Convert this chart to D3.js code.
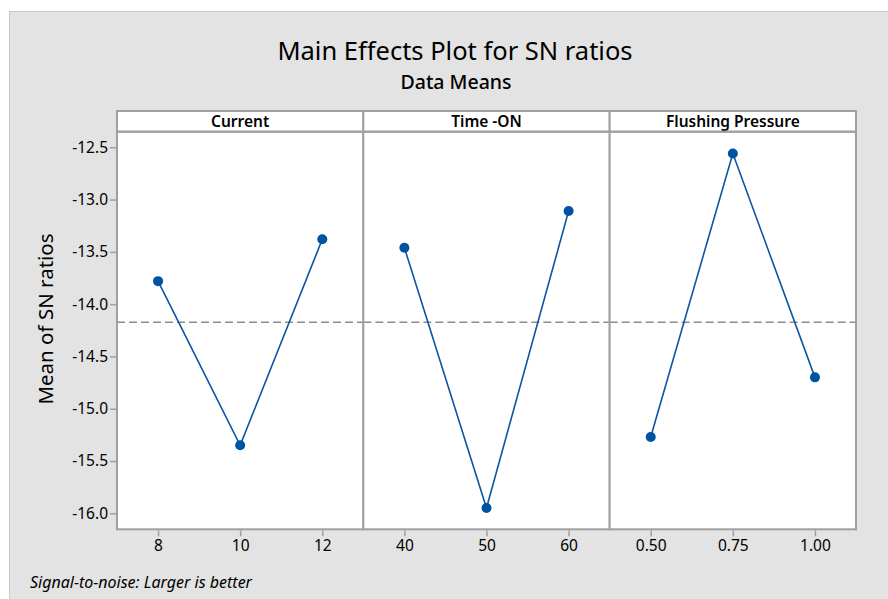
<!DOCTYPE html>
<html>
<head>
<meta charset="utf-8">
<script src="https://cdn.jsdelivr.net/npm/d3@7"></script>
<style>
  body { margin: 0; background: #fff; }
  svg { display: block; font-family: "Noto Sans", "Open Sans", sans-serif; }
</style>
</head>
<body>
<div id="chart"></div>
<script>
// main effects data (SN ratio means per level)
const factors = ["Current", "Time -ON", "Flushing Pressure"];
const currentLevels = ["8", "10", "12"];
const currentMeans = [-13.78, -15.35, -13.38];
const timeLevels = ["40", "50", "60"];
const timeMeans = [-13.46, -15.95, -13.11];
const pressureLevels = ["0.50", "0.75", "1.00"];
const pressureMeans = [-15.27, -12.56, -14.70];
const yTicks = [-12.5, -13.0, -13.5, -14.0, -14.5, -15.0, -15.5, -16.0];

const width = 888, height = 599;
const plotLeft = 117, plotRight = 856, stripTop = 111, plotTop = 131.7, plotBottom = 529.3;
const panelW = (plotRight - plotLeft) / factors.length;

const panels = [
  { name: factors[0], levels: currentLevels, means: currentMeans },
  { name: factors[1], levels: timeLevels, means: timeMeans },
  { name: factors[2], levels: pressureLevels, means: pressureMeans }
];

const grandMean = d3.mean(panels.flatMap(p => p.means));

const svg = d3.select("#chart")
  .append("svg")
  .attr("width", width)
  .attr("height", height);

// gray backdrop
svg.append("rect")
  .attr("x", 9.5).attr("y", 11.5)
  .attr("width", width).attr("height", height)
  .attr("fill", "#e3e3e3")
  .attr("stroke", "#c8c8c8");

var y = d3.scaleLinear()
  .domain([-16.153, -12.351])
  .range([plotBottom, plotTop]);

svg.append("text")
  .attr("x", 455).attr("y", 59.5)
  .attr("text-anchor", "middle")
  .style("font-size", "25.5px")
  .text("Main Effects Plot for SN ratios");

svg.append("text")
  .attr("x", 456).attr("y", 89)
  .attr("text-anchor", "middle")
  .style("font-size", "19.5px")
  .style("font-weight", "500")
  .text("Data Means");

svg.append("text")
  .attr("transform", "translate(53,319) rotate(-90)")
  .attr("text-anchor", "middle")
  .style("font-size", "20.5px")
  .text("Mean of SN ratios");

svg.append("text")
  .attr("x", 30).attr("y", 588)
  .style("font-size", "16px")
  .style("font-style", "italic")
  .text("Signal-to-noise: Larger is better");

// y axis
var yAxis = svg.append("g")
  .attr("transform", "translate(" + plotLeft + ",0)")
  .call(d3.axisLeft(y).tickValues(yTicks).tickFormat(d => d.toFixed(1)).tickSize(7).tickSizeOuter(0));
yAxis.select(".domain").remove();
yAxis.selectAll("line").attr("stroke", "#a0a0a0").attr("stroke-width", 1.5);
yAxis.selectAll("text").attr("fill", "#000").style("font-size", "15.5px")
  .style("font-family", "Noto Sans, sans-serif").attr("x", -9);

panels.forEach(function (p, i) {
  var x0 = plotLeft + i * panelW, x1 = x0 + panelW;
  var g = svg.append("g");

  var x = d3.scalePoint()
    .domain(p.levels)
    .range([x0, x1])
    .padding(0.5);

  // panel body
  g.append("rect")
    .attr("x", x0).attr("y", plotTop)
    .attr("width", panelW).attr("height", plotBottom - plotTop)
    .attr("fill", "#fff");

  // strip
  g.append("rect")
    .attr("x", x0).attr("y", stripTop)
    .attr("width", panelW).attr("height", plotTop - stripTop)
    .attr("fill", "#fff")
    .attr("stroke", "#a0a0a0").attr("stroke-width", 2);

  g.append("text")
    .attr("x", (x0 + x1) / 2).attr("y", stripTop + 16)
    .attr("text-anchor", "middle")
    .style("font-size", "15.5px")
    .style("font-weight", "600")
    .text(p.name);

  // reference line at overall mean
  g.append("line")
    .attr("x1", x0).attr("x2", x1)
    .attr("y1", y(grandMean)).attr("y2", y(grandMean))
    .attr("stroke", "#8c8c8c")
    .attr("stroke-width", 1.5)
    .attr("stroke-dasharray", "8,4");

  var pts = p.levels.map((l, k) => [x(l), y(p.means[k])]);

  g.append("path")
    .attr("d", d3.line()(pts))
    .attr("fill", "none")
    .attr("stroke", "#0b55a3")
    .attr("stroke-width", 1.6);

  g.selectAll("circle")
    .data(pts)
    .enter()
    .append("circle")
    .attr("cx", d => d[0]).attr("cy", d => d[1])
    .attr("r", 5)
    .attr("fill", "#0052a3");

  // panel frame
  g.append("rect")
    .attr("x", x0).attr("y", plotTop)
    .attr("width", panelW).attr("height", plotBottom - plotTop)
    .attr("fill", "none")
    .attr("stroke", "#a0a0a0").attr("stroke-width", 2);

  var xAxis = g.append("g")
    .attr("transform", "translate(0," + (plotBottom + 1) + ")")
    .call(d3.axisBottom(x).tickSize(6).tickSizeOuter(0));
  xAxis.select(".domain").remove();
  xAxis.selectAll("line").attr("stroke", "#a0a0a0").attr("stroke-width", 1.5);
  xAxis.selectAll("text").attr("fill", "#000").style("font-size", "15.5px")
    .style("font-family", "Noto Sans, sans-serif").attr("y", 10);
});
</script>
</body>
</html>
